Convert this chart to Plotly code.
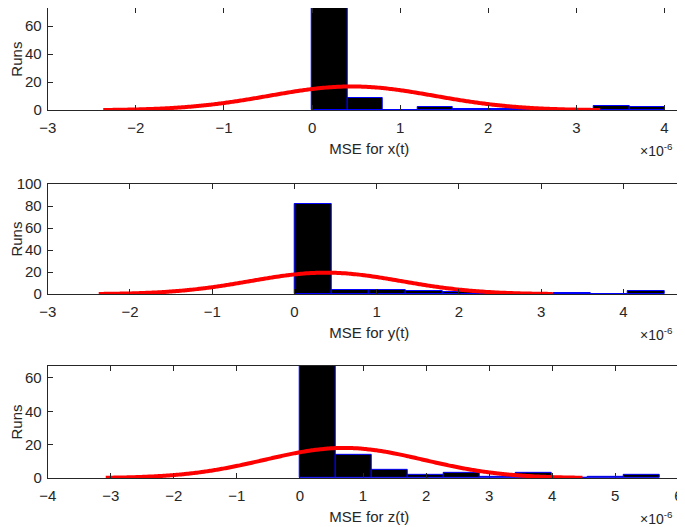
import numpy as np
import plotly.graph_objects as go

# histogram counts per bin (bin edges in units of 1e-6)
x_counts = [81, 9, 0, 2, 1, 1, 0, 1, 3, 2]
x_binw = 0.4
y_counts = [82, 4, 4, 3, 2, 1, 0, 1, 0, 3]
y_binw = 0.45
z_counts = [69, 14, 5, 2, 3, 1, 3, 0, 1, 2]
z_binw = 0.57

# fitted normal parameters (mean, std)
x_fit = (0.45, 0.94)
y_fit = (0.38, 0.92)
z_fit = (0.70, 1.26)

labels = ["MSE for x(t)", "MSE for y(t)", "MSE for z(t)"]
x_ranges = [[-3, 4.3], [-3, 4.82], [-4, 6.2]]
y_ranges = [[0, 73], [0, 100], [0, 67.2]]
y_ticks = [[0, 20, 40, 60], [0, 20, 40, 60, 80, 100], [0, 20, 40, 60]]
domains = [[0.806, 1.0], [0.457, 0.666], [0.108, 0.321]]

fig = go.Figure()
panels = [(x_counts, x_binw, x_fit), (y_counts, y_binw, y_fit), (z_counts, z_binw, z_fit)]
font = dict(family="Liberation Sans, Arial", size=15, color="#262626")

for i, (counts, bw, (mu, sd)) in enumerate(panels):
    n = i + 1
    xa = "x" if n == 1 else f"x{n}"
    ya = "y" if n == 1 else f"y{n}"
    centers = [bw * (k + 0.5) for k in range(len(counts))]
    fig.add_trace(go.Bar(x=centers, y=counts, width=bw, xaxis=xa, yaxis=ya,
                         marker=dict(color="black", line=dict(color="blue", width=1)),
                         showlegend=False))
    total = sum(counts)
    xs = np.linspace(mu - 3 * sd, mu + 3 * sd, 200)
    ys = total * bw / (sd * np.sqrt(2 * np.pi)) * np.exp(-0.5 * ((xs - mu) / sd) ** 2)
    fig.add_trace(go.Scatter(x=xs, y=ys, mode="lines", xaxis=xa, yaxis=ya,
                             line=dict(color="red", width=4, shape="spline"), showlegend=False))
    axis_common = dict(showline=True, linecolor="#262626", linewidth=1, mirror="ticks",
                       ticks="inside", ticklen=5, tickcolor="#262626", showgrid=False,
                       zeroline=False, tickfont=font, automargin=False)
    fig.layout[f"xaxis{'' if n == 1 else n}"] = dict(
        axis_common, domain=[0.058, 0.997], range=x_ranges[i], dtick=1,
        anchor=ya, ticklabelstandoff=4, title=dict(text=labels[i], font=font, standoff=8))
    fig.layout[f"yaxis{'' if n == 1 else n}"] = dict(
        axis_common, domain=domains[i], range=y_ranges[i], tickvals=y_ticks[i],
        anchor=xa, ticklabelstandoff=2, title=dict(text="Runs", font=font, standoff=2))
    fig.add_annotation(text="×10<sup>-6</sup>", xref="paper", yref="paper",
                       x=0.92, y=domains[i][0] - 0.075, xanchor="left", yanchor="middle",
                       showarrow=False, font=dict(family="Liberation Sans, Arial", size=14, color="#262626"))

fig.update_layout(width=685, height=527, margin=dict(l=0, r=0, t=0, b=0),
                  plot_bgcolor="white", paper_bgcolor="white", bargap=0)
fig.write_html("out.html")
